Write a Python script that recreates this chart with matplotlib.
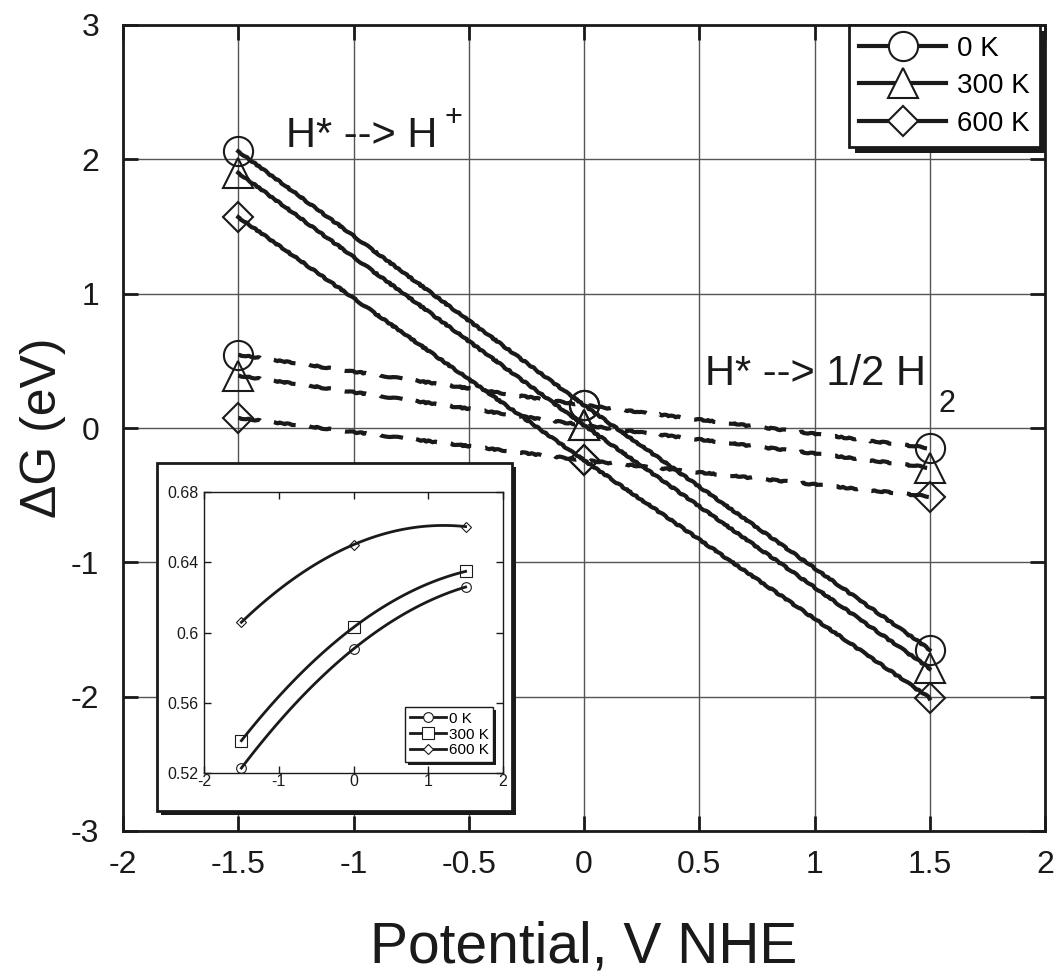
import numpy as np
import matplotlib
matplotlib.use("Agg")
import matplotlib.pyplot as plt
from matplotlib.patches import Rectangle
from matplotlib.lines import Line2D
from matplotlib.transforms import IdentityTransform

plt.rcParams['font.family'] = ['Liberation Sans', 'DejaVu Sans']
plt.rcParams['axes.unicode_minus'] = False

# ---- data ----
potential = [-1.5, 0.0, 1.5]
temps = ['0 K', '300 K', '600 K']

# H* --> H+  (solid lines)
dg_ion_0k = [2.06, 0.17, -1.65]
dg_ion_300k = [1.90, 0.02, -1.79]
dg_ion_600k = [1.57, -0.24, -2.01]

# H* --> 1/2 H2  (dashed lines)
dg_h2_0k = [0.545, 0.17, -0.15]
dg_h2_300k = [0.39, 0.02, -0.295]
dg_h2_600k = [0.075, -0.24, -0.51]

# inset values
inset_0k = [0.5228, 0.5906, 0.6259]
inset_300k = [0.5384, 0.6029, 0.6348]
inset_600k = [0.6058, 0.650, 0.6603]

x_ticks = [-2, -1.5, -1, -0.5, 0, 0.5, 1, 1.5, 2]
x_ticklabels = ['-2', '-1.5', '-1', '-0.5', '0', '0.5', '1', '1.5', '2']
y_ticks = [-3, -2, -1, 0, 1, 2, 3]
y_ticklabels = ['-3', '-2', '-1', '0', '1', '2', '3']
inset_xticks = [-2, -1, 0, 1, 2]
inset_xticklabels = ['-2', '-1', '0', '1', '2']
inset_yticks = [0.52, 0.56, 0.60, 0.64, 0.68]
inset_yticklabels = ['0.52', '0.56', '0.6', '0.64', '0.68']

W, H = 1057, 973
fig = plt.figure(figsize=(W / 100, H / 100), dpi=100)
ax = fig.add_axes([123 / W, 1 - 831 / H, 922 / W, 806 / H])

ink = '#1a1a1a'
main_markers = [('o', 21), ('^', 22), ('D', 15)]

handles = []
for (mk, ms), ion, h2 in zip(main_markers,
                             [dg_ion_0k, dg_ion_300k, dg_ion_600k],
                             [dg_h2_0k, dg_h2_300k, dg_h2_600k]):
    l1, = ax.plot(potential, ion, '-', color=ink, lw=3, zorder=3)
    l2, = ax.plot(potential, h2, color=ink, lw=3, ls=(0, (5.5, 3.5)), zorder=3)
    for l in (l1, l2):
        l.set_sketch_params(scale=0.6, length=18, randomness=8)
    ax.plot(potential, ion, ls='none', marker=mk, ms=ms, mfc='none',
            mec=ink, mew=1.5, zorder=4)
    ax.plot(potential, h2, ls='none', marker=mk, ms=ms, mfc='none',
            mec=ink, mew=1.5, zorder=4)
    handles.append(Line2D([], [], color=ink, lw=3, marker=mk, ms=ms,
                          mfc='white', mec=ink, mew=1.5))

ax.set_xlim(-2, 2)
ax.set_ylim(-3, 3)
ax.set_xticks(x_ticks)
ax.set_xticklabels(x_ticklabels)
ax.set_yticks(y_ticks)
ax.set_yticklabels(y_ticklabels)
ax.grid(True, color='#555555', lw=1)
ax.set_axisbelow(True)
ax.tick_params(direction='in', length=11, width=2, top=True, right=True,
               labelsize=23, colors=ink)
ax.tick_params(axis='x', pad=14)
ax.tick_params(axis='y', pad=17)
for s in ax.spines.values():
    s.set_linewidth(2)
    s.set_color(ink)

ax.set_ylabel('\u0394G (eV)', fontsize=36, color=ink)
ax.yaxis.set_label_coords(-0.062, 0.5)
ax.set_xlabel('Potential, V NHE', fontsize=41, color=ink)
ax.xaxis.set_label_coords(0.5, -0.111)

ax.text(-1.291, 2.09, 'H* --> H', fontsize=30, va='baseline', color=ink)
ax.text(-0.604, 2.246, '+', fontsize=22, va='baseline', color=ink)
ax.text(0.526, 0.321, 'H* --> 1/2 H', fontsize=30, va='baseline', color=ink)
ax.text(1.539, 0.119, '2', fontsize=22, va='baseline', color=ink)

leg = ax.legend(handles, temps, loc='upper right',
                bbox_to_anchor=(0.9946, 1.0), borderaxespad=0, fontsize=20,
                frameon=True, fancybox=False, framealpha=1, edgecolor=ink,
                handlelength=3.1, handletextpad=0.4, labelspacing=0.42,
                borderpad=0.38)
leg.get_frame().set_linewidth(2)
leg.set_zorder(6)

# ---- inset box ----
fig.add_artist(Rectangle((161 / W, 1 - 815 / H), 355 / W, 348 / H,
                         transform=fig.transFigure, facecolor=ink,
                         edgecolor='none', zorder=1))
fig.add_artist(Rectangle((157 / W, 1 - 811 / H), 355 / W, 348 / H,
                         transform=fig.transFigure, facecolor='white',
                         edgecolor=ink, lw=2, zorder=1.1))

axi = fig.add_axes([204 / W, 1 - 773 / H, 299 / W, 281 / H], zorder=3)
inset_markers = [('o', 7), ('s', 8.5), ('D', 4.8)]
xs = np.linspace(potential[0], potential[-1], 120)
ihandles = []
for (mk, ms), vals in zip(inset_markers, [inset_0k, inset_300k, inset_600k]):
    coef = np.polyfit(potential, vals, 2)
    axi.plot(xs, np.polyval(coef, xs), color=ink, lw=2)
    axi.plot(potential, vals, ls='none', marker=mk, ms=ms, mfc='none',
             mec=ink, mew=0.8)
    ihandles.append(Line2D([], [], color=ink, lw=2, marker=mk, ms=ms,
                           mfc='white', mec=ink, mew=0.8))
axi.set_xlim(-2, 2)
axi.set_ylim(0.52, 0.68)
axi.set_xticks(inset_xticks)
axi.set_xticklabels(inset_xticklabels)
axi.set_yticks(inset_yticks)
axi.set_yticklabels(inset_yticklabels)
axi.tick_params(direction='in', length=5, width=1, top=True, right=True,
                labelsize=11.5, colors=ink)
axi.tick_params(axis='x', pad=1)
axi.tick_params(axis='y', pad=4)
for s in axi.spines.values():
    s.set_linewidth(1)
    s.set_color(ink)

ileg = axi.legend(ihandles, temps, loc='lower right',
                  bbox_to_anchor=(0.967, 0.039), borderaxespad=0, fontsize=11,
                  frameon=True, fancybox=False, framealpha=1, edgecolor=ink,
                  handlelength=2.4, handletextpad=0.15, labelspacing=0.12,
                  borderpad=0.3)
ileg.get_frame().set_linewidth(1)

# black drop shadows behind the legend frames
fig.canvas.draw()
for lg, ax_, off in [(leg, ax, 6), (ileg, axi, 3)]:
    bb = lg.get_frame().get_window_extent()
    sh = Rectangle((bb.x0 + off, bb.y0 - off), bb.width, bb.height,
                   transform=IdentityTransform(), facecolor=ink,
                   edgecolor='none', zorder=lg.get_zorder() - 0.1,
                   clip_on=False)
    ax_.add_artist(sh)

fig.savefig('out.png', dpi=100)
